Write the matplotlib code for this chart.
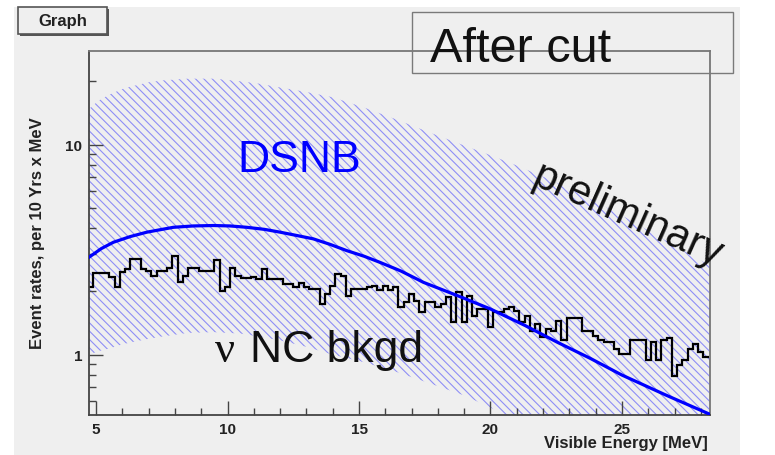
import numpy as np
import matplotlib
matplotlib.use('Agg')
import matplotlib.pyplot as plt
from matplotlib.patches import Rectangle
from matplotlib.ticker import FixedLocator, MultipleLocator, LogLocator, NullFormatter, FixedFormatter

# uncertainty band of the DSNB prediction
band_energy = [4.73, 5.1, 5.5, 6.0, 6.4, 7.0, 7.5, 8.5, 9.5, 10.5, 11.2, 12.0, 13.0, 14.0,
               15.2, 16.4, 17.7, 19.0, 20.0, 21.0, 22.4, 23.8, 25.0, 26.0, 27.2, 28.35]
band_upper = [14.8, 16.2, 17.3, 18.4, 19.0, 19.8, 20.2, 20.6, 20.6, 20.0, 19.5, 18.7, 17.8, 16.8,
              15.0, 13.2, 11.4, 9.9, 8.9, 7.95, 6.7, 5.5, 4.6, 3.9, 3.2, 2.65]
band_lower = [1.0, 1.04, 1.07, 1.12, 1.15, 1.19, 1.22, 1.27, 1.28, 1.26, 1.22, 1.17, 1.09, 1.0,
              0.92, 0.83, 0.73, 0.64, 0.56, 0.49, 0.42, 0.35, 0.32, 0.30, 0.27, 0.25]

# DSNB central expectation
dsnb_energy = [4.73, 5.2, 5.66, 6.3, 6.93, 7.94, 8.7, 9.46, 10.1, 10.73, 11.4, 12.0, 12.6, 13.26,
               13.9, 14.53, 15.2, 15.8, 16.6, 17.45, 18.7, 20.0, 21.3, 22.52, 23.8, 25.0, 26.7, 28.35]
dsnb_rate = [2.91, 3.2, 3.43, 3.65, 3.83, 4.04, 4.1, 4.12, 4.1, 4.04, 3.95, 3.83, 3.7, 3.56,
             3.35, 3.13, 2.94, 2.75, 2.5, 2.21, 1.92, 1.65, 1.38, 1.15, 0.96, 0.8, 0.64, 0.52]

# NC background histogram, 0.2 MeV bins starting at 4.7 MeV
bin_start = 4.7
bin_width = 0.2
nc_bkg = [2.09, 2.44, 2.44, 2.44, 2.34,
          2.11, 2.47, 2.56, 2.86, 2.86,
          2.56, 2.51, 2.38, 2.51, 2.51,
          2.59, 2.96, 2.21, 2.38, 2.60,
          2.60, 2.51, 2.51, 2.51, 2.83,
          2.02, 2.11, 2.60, 2.38, 2.32,
          2.32, 2.34, 2.29, 2.56, 2.28,
          2.28, 2.29, 2.17, 2.17, 2.09,
          2.19, 2.09, 2.06, 2.06, 1.74,
          1.95, 2.13, 2.42, 2.38, 1.91,
          2.06, 2.06, 2.06, 2.09, 2.13,
          2.03, 2.13, 2.03, 2.09, 1.68,
          1.78, 1.95, 1.81, 1.59, 1.79,
          1.79, 1.68, 1.75, 1.88, 1.43,
          1.98, 1.43, 1.90, 1.53, 1.65,
          1.65, 1.35, 1.59, 1.59, 1.65,
          1.68, 1.62, 1.43, 1.53, 1.30,
          1.40, 1.21, 1.32, 1.30, 1.45,
          1.17, 1.49, 1.49, 1.50, 1.30,
          1.30, 1.23, 1.17, 1.15, 1.15,
          1.06, 1.01, 1.01, 1.17, 1.17,
          1.17, 0.94, 1.15, 0.94, 1.17,
          1.20, 0.79, 0.89, 0.94, 1.06,
          1.12, 1.03, 0.97]

x_ticks = [5, 10, 15, 20, 25]
y_ticks = [1, 10]
y_tick_labels = ['1', '10']

plt.rcParams['font.family'] = ['Liberation Sans', 'DejaVu Sans']
plt.rcParams['hatch.linewidth'] = 0.8

W, H = 775, 456
bg = '#efefef'

fig = plt.figure(figsize=(W / 100, H / 100), dpi=100)
fig.patch.set_facecolor('white')
fig.patches.append(Rectangle((14 / W, 0), (740 - 14) / W, (H - 8) / H, transform=fig.transFigure,
                             facecolor=bg, edgecolor='none', zorder=-10))

ax = fig.add_axes([89 / W, 1 - 415.7 / H, (710 - 89) / W, (415.7 - 52) / H])
ax.set_facecolor(bg)
ax.set_yscale('log')

ax.fill_between(band_energy, band_lower, band_upper, facecolor='none', edgecolor='#8e8ef6',
                linewidth=0, hatch='\\\\\\\\', zorder=1)
ax.plot(dsnb_energy, dsnb_rate, color='#0000ff', lw=2.3, zorder=3)

edges = bin_start + bin_width * np.arange(len(nc_bkg) + 1)
ax.stairs(nc_bkg, edges, baseline=None, color='black', lw=1.6, zorder=2)

ax.set_xlim(4.73, 28.35)
ax.set_ylim(0.518, 27.9)

ax.xaxis.set_major_locator(FixedLocator(x_ticks))
ax.xaxis.set_minor_locator(MultipleLocator(1))
ax.yaxis.set_major_locator(FixedLocator(y_ticks))
ax.yaxis.set_major_formatter(FixedFormatter(y_tick_labels))
ax.yaxis.set_minor_locator(LogLocator(base=10, subs=np.arange(2, 10)))
ax.yaxis.set_minor_formatter(NullFormatter())

ax.tick_params(which='both', direction='in', top=False, right=False, color='#444444', width=1)
ax.tick_params(which='major', length=10, pad=5, labelsize=11)
ax.tick_params(which='minor', length=5)
for lab in ax.get_xticklabels() + ax.get_yticklabels():
    lab.set_fontweight('bold')
    lab.set_color('#222222')

for side in ['left', 'bottom']:
    ax.spines[side].set_color('#444444')
    ax.spines[side].set_linewidth(1.3)
for side in ['top', 'right']:
    ax.spines[side].set_color('#777777')
    ax.spines[side].set_linewidth(1.3)

ax.text(10.36, 8.45, 'DSNB', color='#0000ff', fontsize=32, ha='left', va='center', zorder=4)
ax.text(9.52, 0.936, 'ν', color='#111111', fontsize=32, family='Liberation Serif',
        ha='left', va='baseline', zorder=4)
ax.text(10.85, 0.936, 'NC bkgd', color='#111111', fontsize=32, ha='left', va='baseline', zorder=4)
ax.text(25.2, 4.6, 'preliminary', color='#111111', fontsize=30, rotation=-24,
        ha='center', va='center', rotation_mode='anchor', zorder=4, clip_on=False)

fig.text(38 / W, 1 - 233 / H, 'Event rates, per 10 Yrs x MeV', rotation=90, fontsize=12,
         fontweight='bold', ha='center', va='center', color='#222222')
fig.text(708 / W, 1 - 444 / H, 'Visible Energy [MeV]', fontsize=12, fontweight='bold',
         ha='right', va='center', color='#222222')

# "After cut" pave
fig.patches.append(Rectangle((411.7 / W, 1 - 74 / H), (733.3 - 411.7) / W, (74 - 12.7) / H,
                             transform=fig.transFigure, facecolor='none', edgecolor='#7a7a7a', lw=1))
fig.text(430 / W, 1 - 62 / H, 'After cut', fontsize=35, ha='left', va='baseline', color='#111111')

# "Graph" title box with shadow
fig.patches.append(Rectangle((20 / W, 1 - 37 / H), 89 / W, 27 / H, transform=fig.transFigure,
                             facecolor='#555555', edgecolor='none'))
fig.patches.append(Rectangle((18 / W, 1 - 35 / H), 89 / W, 27 / H, transform=fig.transFigure,
                             facecolor=bg, edgecolor='#555555', lw=1.2))
fig.text(62.5 / W, 1 - 21.5 / H, 'Graph', fontsize=12, fontweight='bold', ha='center', va='center',
         color='#222222')

fig.savefig('out.png', dpi=100, facecolor=fig.get_facecolor())
